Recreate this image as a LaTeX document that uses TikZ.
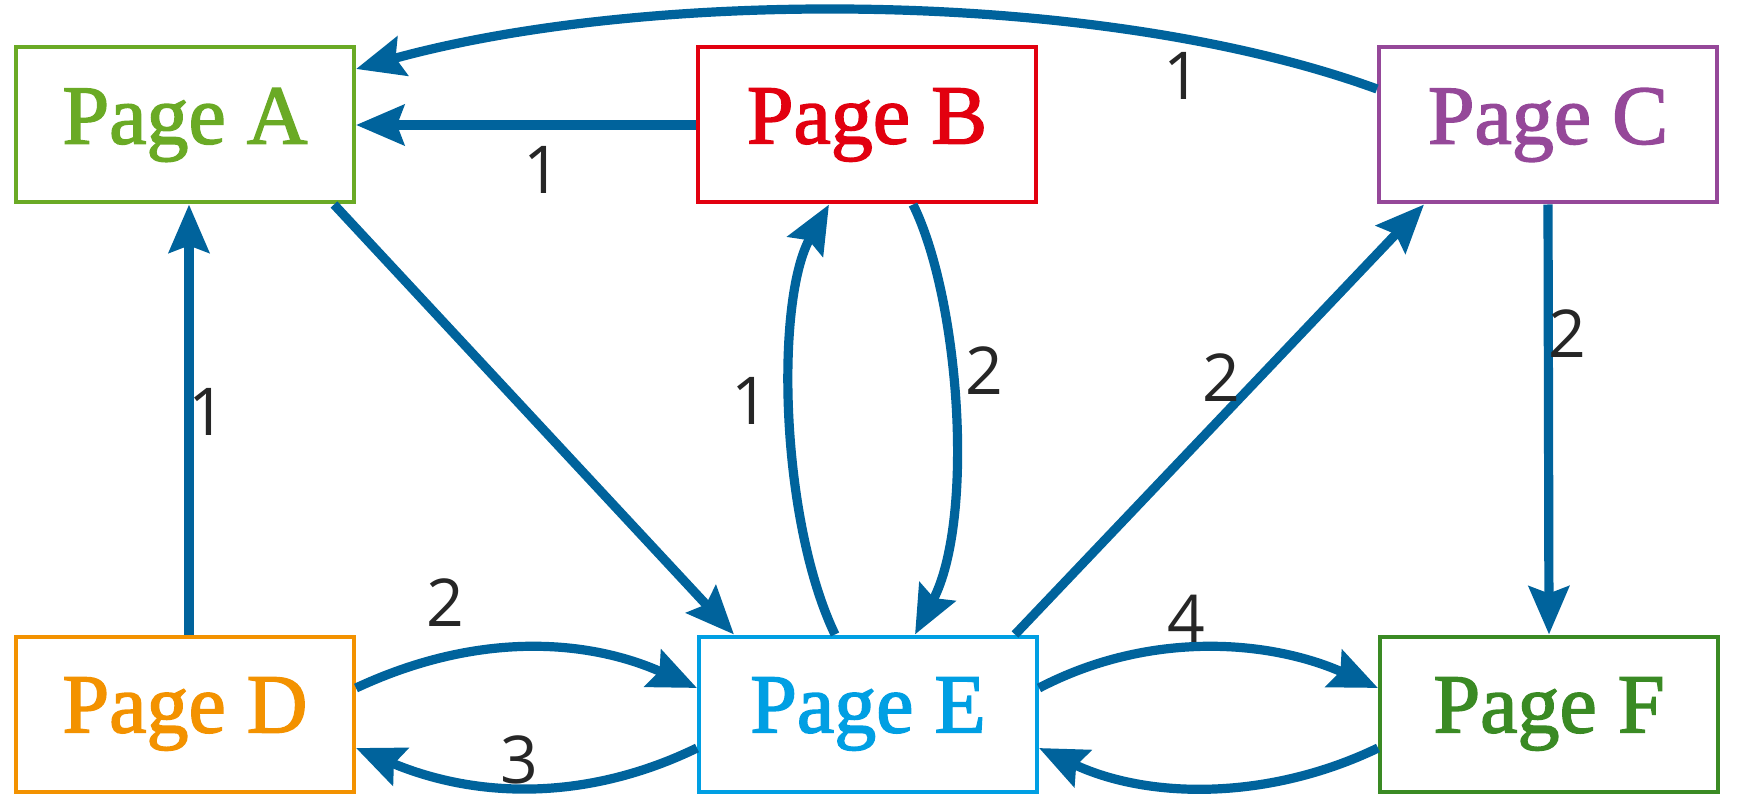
\documentclass[tikz,border=0pt]{standalone}
\usepackage{fontspec}
\usetikzlibrary{arrows.meta}
\newfontfamily\boxfont[FakeBold=1.8]{Liberation Serif}
\newfontfamily\labfont{Open Sans}
\definecolor{cA}{RGB}{106,170,37}
\definecolor{cB}{RGB}{226,0,15}
\definecolor{cC}{RGB}{149,72,153}
\definecolor{cD}{RGB}{243,146,0}
\definecolor{cE}{RGB}{0,159,227}
\definecolor{cF}{RGB}{58,138,36}
\definecolor{arrc}{RGB}{0,99,156}
\definecolor{labc}{RGB}{38,38,38}
\tikzset{
  page/.style={draw, line width=2pt, fill=white, minimum width=169pt, minimum height=77.5pt, inner sep=0pt,
    font=\boxfont\fontsize{42pt}{46pt}\selectfont},
  arr/.style={draw=arrc, line width=4.6pt, -{Stealth[length=24pt, width=20pt, inset=3.5pt]}},
  lab/.style={text=labc, inner sep=0pt, font=\labfont\fontsize{33pt}{38pt}\selectfont}
}
\begin{document}
\begin{tikzpicture}[x=0.5pt, y=-0.5pt]
\useasboundingbox (0,0) rectangle (1745,802);
\node[page, draw=cA, text=cA] (A) at (185,125) {Page A};
\node[page, draw=cB, text=cB] (B) at (867,125) {Page B};
\node[page, draw=cC, text=cC] (C) at (1548,125) {Page C};
\node[page, draw=cD, text=cD] (D) at (185,714) {Page D};
\node[page, draw=cE, text=cE] (E) at (868,714) {Page E};
\node[page, draw=cF, text=cF] (F) at (1549,714) {Page F};

\draw[arr] ([yshift=18pt]C.west) .. controls (1100,-12) and (650,-12) .. ([yshift=28pt]A.east);
\draw[arr] (B.west) -- (A.east);
\draw[arr] ([xshift=74.5pt]A.south) -- ([xshift=-67pt]E.north);
\draw[arr] ([xshift=2pt]D.north) -- ([xshift=2pt]A.south);
\draw[arr] ([xshift=-16.5pt]E.north) .. controls (780,520) and (775,300) .. ([xshift=-19pt]B.south);
\draw[arr] ([xshift=23pt]B.south) .. controls (960,300) and (975,520) .. ([xshift=23.5pt]E.north);
\draw[arr] ([xshift=73.5pt]E.north) -- ([xshift=-62pt]C.south);
\draw[arr] (C.south) -- (F.north);
\draw[arr] ([yshift=13pt]D.east) .. controls (480,630) and (590,640) .. ([yshift=13pt]E.west);
\draw[arr] ([yshift=-17pt]E.west) .. controls (590,800) and (480,800) .. ([yshift=-17pt]D.east);
\draw[arr] ([yshift=13pt]E.east) .. controls (1150,630) and (1270,640) .. ([yshift=13pt]F.west);
\draw[arr] ([yshift=-17pt]F.west) .. controls (1270,800) and (1150,800) .. ([yshift=-17pt]E.east);

\node[lab] (l1) at (1182,76) {1};
\node[lab] (l2) at (542,170) {1};
\node[lab] (l3) at (207,412) {1};
\node[lab] (l4) at (750,401) {1};
\node[lab] (l5) at (984,371) {2};
\node[lab] (l6) at (1221,378) {2};
\node[lab] (l7) at (1567,334) {2};
\node[lab] (l8) at (445,603) {2};
\node[lab] (l9) at (519,760) {3};
\node[lab] (l10) at (1186,619) {4};
\end{tikzpicture}
\end{document}
